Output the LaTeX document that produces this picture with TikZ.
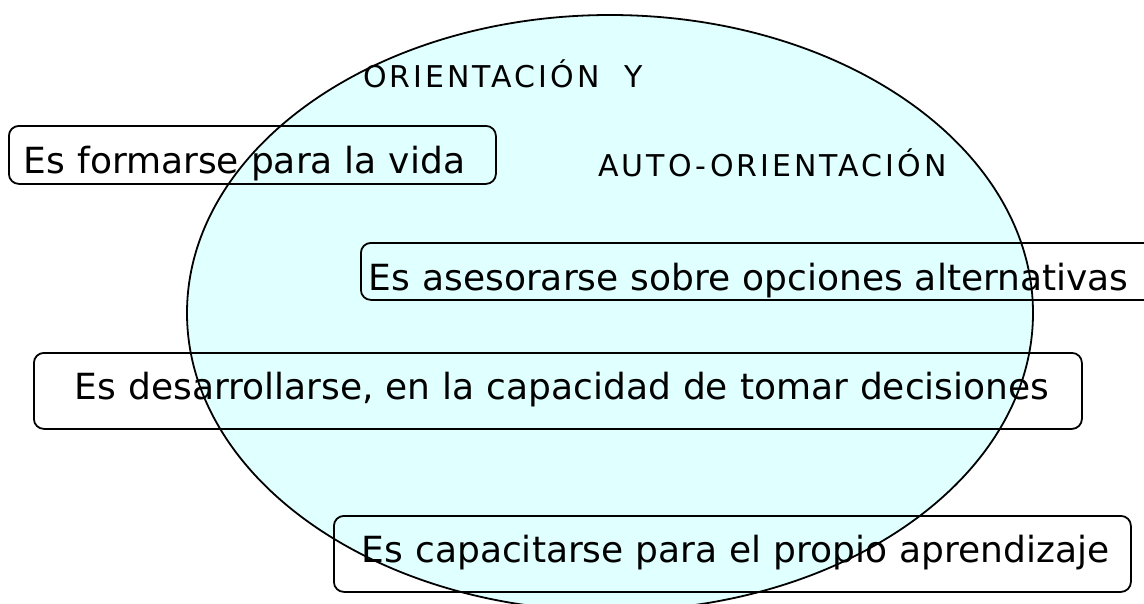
\documentclass[tikz,border=0pt]{standalone}
\usepackage{fontspec}
\setmainfont{DejaVu Sans}
\definecolor{ellfill}{RGB}{224,255,255}
\tikzset{
  box/.style={draw=black, line width=1.8pt, rounded corners=10pt, inner ysep=0pt, align=left, font=\fontsize{36}{40}\selectfont},
  title/.style={inner sep=0pt, font=\fontsize{30}{34}\selectfont\addfontfeature{LetterSpace=10}},
  ell/.style={draw=black, line width=1.8pt, fill=ellfill}
}
\begin{document}
\begin{tikzpicture}[x=1pt,y=-1pt]
\useasboundingbox (0,0) rectangle (1144,603);
\clip (0,0) rectangle (1144,603);
% ellipse
\draw[ell] (610,313) ellipse [x radius=423, y radius=298];
% titles
\node[title, anchor=base west] (t1) at (363,87) {ORIENTACIÓN~~Y};
\node[title, anchor=base west] (t2) at (598,176) {AUTO-ORIENTACIÓN};
% boxes
\node[box, anchor=north west, minimum width=487pt, minimum height=58pt,
      inner xsep=15pt, text width=457pt, text height=40pt, text depth=2pt] (b1) at (8,125)
      {\mbox{Es formarse para la vida}};
\node[box, anchor=north west, minimum width=800pt, minimum height=57pt,
      inner xsep=8pt, text width=784pt, text height=41pt, text depth=2pt] (b2) at (360,242)
      {\mbox{Es asesorarse sobre opciones alternativas}};
\node[box, anchor=north west, minimum width=1048pt, minimum height=76pt,
      inner xsep=41pt, text width=966pt, text height=27pt, text depth=9pt] (b3) at (33,352)
      {\mbox{Es desarrollarse, en la capacidad de tomar decisiones}};
\node[box, anchor=north west, minimum width=797pt, minimum height=76pt,
      inner xsep=28pt, text width=741pt, text height=27pt, text depth=9pt] (b4) at (333,515)
      {\mbox{Es capacitarse para el propio aprendizaje}};
\end{tikzpicture}
\end{document}
